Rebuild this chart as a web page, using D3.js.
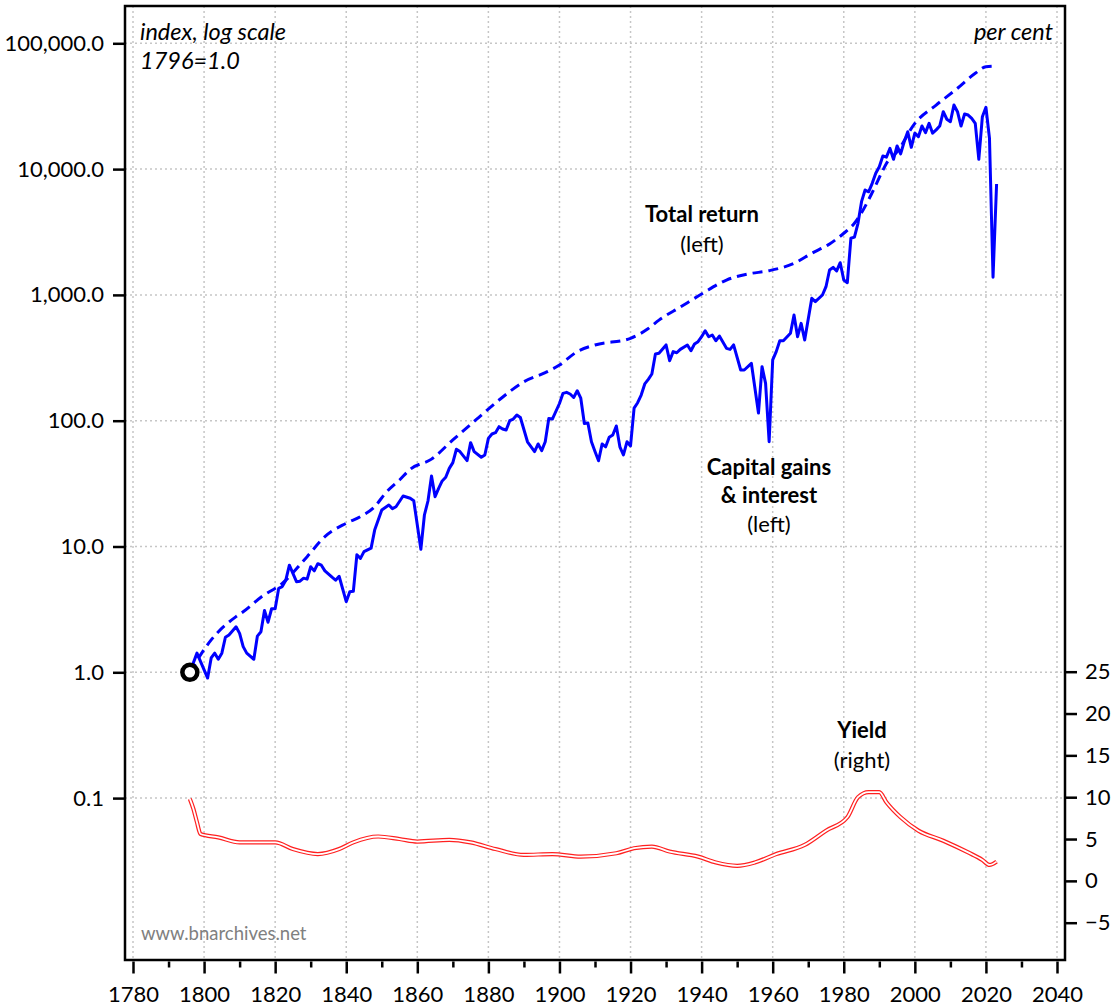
<!DOCTYPE html>
<html>
<head>
<meta charset="utf-8">
<script src="https://cdn.jsdelivr.net/npm/d3@7"></script>
<style>
  body { margin: 0; background: #fff; }
  text { font-family: Lato, "Open Sans", sans-serif; }
</style>
</head>
<body>
<div id="chart"></div>
<script>
// capital gains & interest, index 1796=1.0 (left, log)
const cgYears = [1796,1798,1801,1802,1803,1804,1805,1806,1807,1809,1810,1811,1812,1814,1815,1816,1817,1818,1819,1820,
  1821,1822,1823,1824,1826,1827,1828,1829,1830,1831,1832,1833,1834,1836,1837,1838,1840,1841,1842,1843,
  1844,1845,1847,1848,1850,1852,1853,1854,1856,1858,1859,1861,1862,1863,1864,1865,1866,1867,1868,1869,
  1870,1871,1872,1874,1875,1876,1878,1879,1880,1881,1882,1883,1884,1885,1886,1887,1888,1889,1891,1893,
  1894,1895,1896,1897,1898,1900,1901,1902,1903,1904,1905,1906,1907,1908,1909,1910,1911,1912,1913,1914,
  1915,1916,1917,1918,1919,1920,1921,1922,1923,1924,1925,1926,1927,1928,1930,1931,1932,1933,1934,1936,
  1937,1938,1939,1940,1941,1942,1943,1944,1945,1947,1948,1949,1951,1952,1954,1956,1957,1958,1959,1960,
  1961,1962,1963,1965,1966,1967,1968,1969,1971,1972,1974,1975,1976,1977,1978,1979,1980,1981,1982,1983,
  1984,1985,1986,1987,1988,1989,1990,1991,1992,1993,1994,1995,1996,1997,1998,1999,2000,2001,2002,2003,
  2004,2005,2006,2007,2008,2009,2010,2011,2012,2013,2014,2015,2016,2017,2018,2019,2020,2021,2022,2023];
const cgValues = [1.0,1.42,0.9,1.3,1.42,1.27,1.42,1.9,1.98,2.3,2.04,1.6,1.42,1.27,1.94,2.1,3.1,2.5,3.2,3.2,
  4.65,4.8,5.4,7.1,5.25,5.3,5.6,5.5,6.9,6.4,7.3,7.1,6.4,5.7,5.4,5.8,3.64,4.37,4.4,8.6,
  8.05,9.1,9.7,13.5,19.5,21.4,20,20.7,25.2,24.2,23.1,9.5,17.8,23,36.4,24.9,29,33.2,35.5,41.8,
  46.4,59.3,56.8,48.1,66.9,56.8,51.2,53.4,72.4,78.4,80.3,89.6,85.9,84.3,100,103,111,106,68,56.8,
  65.3,57.8,68,104,103,137,165,168,163,153,173,151,95,96,68,56.8,48,65.3,62,73.8,
  77,90.8,62,53.4,68,63,126,139,160,196,213,235,339,344,400,300,354,347,369,400,
  360,407,425,465,519,465,480,432,471,376,369,400,253,253,286,115,269,198,68,304,
  354,432,432,495,692,465,594,438,940,883,998,1162,1578,1656,1550,1803,1313,1250,2818,2880,
  3710,5510,6820,6600,7710,9260,10450,12700,12450,14600,11970,15270,13200,16500,19800,14900,19300,18100,22000,19500,
  23100,19300,20500,22000,28600,24900,23800,32300,28600,22000,27400,26900,25300,23100,11970,26100,31000,17600,1380,7620];

// total return, index 1796=1.0 (left, log)
const trYears = [1796,1802,1809,1811,1816,1822,1829,1834,1840,1844,1848,1851,1855,1858,1864,1870,1877,1883,1890,1896,
  1900,1905,1910,1920,1925,1928,1934,1940,1947,1953,1959,1966,1971,1976,1980,1983,1985,1988,1991,
  1992,1995,2000,2006,2012,2017,2020,2023];
const trValues = [1.0,1.81,2.77,3.03,3.95,5.1,8.3,12,15.3,17.3,20.7,26.5,33.8,41.1,49.5,70.3,104.5,146,204,241,
  277,354,400,452,540,630,800,1016,1313,1466,1557,1782,2142,2541,3090,3710,4500,6500,9800,
  11100,13700,23100,32300,43900,57700,65200,66000];

// yield, per cent (right)
const yieldYears = [1796,1797,1798,1799,1804,1810,1820,1825,1832,1838,1842,1849,1855,1860,1869,1875,1882,1890,1898,1906,
  1916,1921,1926,1931,1939,1944,1950,1955,1961,1969,1975,1981,1984,1987,1990,1992,1996,2001,2008,2015,
  2019,2021,2023];
const yieldValues = [9.8,8.6,7.0,5.6,5.2,4.6,4.6,3.8,3.2,3.8,4.6,5.3,5.0,4.7,4.9,4.6,3.8,3.1,3.2,2.9,
  3.3,3.9,4.1,3.5,2.9,2.2,1.8,2.2,3.2,4.3,6.0,7.6,10.0,10.6,10.6,9.4,7.6,6.0,4.8,3.4,
  2.5,1.9,2.3];

const xTicks = [1780,1800,1820,1840,1860,1880,1900,1920,1940,1960,1980,2000,2020,2040];
const xMinorTicks = [1790,1810,1830,1850,1870,1890,1910,1930,1950,1970,1990,2010,2030];
const leftTicks = [0.1,1,10,100,1000,10000,100000];
const rightTicks = [-5,0,5,10,15,20,25];

const width = 1112, height = 1008;
const plot = {left: 125, right: 1065, top: 6, bottom: 960};

const x = d3.scaleLinear().domain([1780, 2040]).range([133, 1057]);
const yL = d3.scaleLog().domain([1, 100000]).range([672.3, 43.3]);
const yR = d3.scaleLinear().domain([-5, 25]).range([922.7, 671.7]);

const svg = d3.select("#chart")
  .append("svg")
  .attr("width", width)
  .attr("height", height);

svg.append("clipPath")
  .attr("id", "clip")
  .append("rect")
  .attr("x", plot.left)
  .attr("y", plot.top)
  .attr("width", plot.right - plot.left)
  .attr("height", plot.bottom - plot.top);

// dotted grid
const grid = svg.append("g")
  .attr("stroke", "#c6c6c6")
  .attr("stroke-width", 1.5)
  .attr("stroke-dasharray", "2,3");

grid.selectAll("line.v")
  .data(xTicks)
  .join("line")
  .attr("class", "v")
  .attr("x1", d => x(d)).attr("x2", d => x(d))
  .attr("y1", plot.top).attr("y2", plot.bottom);

grid.selectAll("line.h")
  .data(leftTicks)
  .join("line")
  .attr("class", "h")
  .attr("x1", plot.left).attr("x2", plot.right)
  .attr("y1", d => yL(d)).attr("y2", d => yL(d));

const g = svg.append("g").attr("clip-path", "url(#clip)");

// yield: red double line
const yieldLine = d3.line()
  .x((d, i) => x(yieldYears[i]))
  .y(d => yR(d))
  .curve(d3.curveMonotoneX);

g.append("path")
  .datum(yieldValues)
  .attr("fill", "none")
  .attr("stroke", "#ff2020")
  .attr("stroke-width", 4.2)
  .attr("d", yieldLine);

g.append("path")
  .datum(yieldValues)
  .attr("fill", "none")
  .attr("stroke", "#fff")
  .attr("stroke-width", 1.8)
  .attr("d", yieldLine);

// total return (dashed)
g.append("path")
  .datum(trValues)
  .attr("fill", "none")
  .attr("stroke", "#0000ff")
  .attr("stroke-width", 3)
  .attr("stroke-dasharray", "10,6")
  .attr("d", d3.line()
    .x((d, i) => x(trYears[i]))
    .y(d => yL(d))
    .curve(d3.curveMonotoneX));

// capital gains & interest (solid)
g.append("path")
  .datum(cgValues)
  .attr("fill", "none")
  .attr("stroke", "#0000ff")
  .attr("stroke-width", 3)
  .attr("stroke-linejoin", "round")
  .attr("d", d3.line()
    .x((d, i) => x(cgYears[i]))
    .y(d => yL(d)));

// base year marker
svg.append("circle")
  .attr("cx", x(1796))
  .attr("cy", yL(1))
  .attr("r", 7.5)
  .attr("fill", "#fff")
  .attr("stroke", "#000")
  .attr("stroke-width", 4.5);

// frame
svg.append("rect")
  .attr("x", plot.left)
  .attr("y", plot.top)
  .attr("width", plot.right - plot.left)
  .attr("height", plot.bottom - plot.top)
  .attr("fill", "none")
  .attr("stroke", "#000")
  .attr("stroke-width", 2.5);

function styleAxis(sel) {
  sel.select(".domain").remove();
  sel.selectAll(".tick line").attr("stroke", "#000").attr("stroke-width", 2.5);
  sel.selectAll(".tick text").attr("fill", "#000").attr("font-size", 22)
    .attr("font-family", "Lato, 'Open Sans', sans-serif");
}

svg.append("g")
  .attr("transform", `translate(${plot.left},0)`)
  .call(d3.axisLeft(yL).tickValues(leftTicks).tickFormat(d3.format(",.1f")).tickSize(12).tickPadding(9))
  .call(styleAxis);

svg.append("g")
  .attr("transform", `translate(${plot.right},0)`)
  .call(d3.axisRight(yR).tickValues(rightTicks).tickFormat(d3.format("d")).tickSize(12).tickPadding(8))
  .call(styleAxis);

svg.append("g")
  .attr("transform", `translate(0,${plot.bottom + 1.5})`)
  .call(d3.axisBottom(x).tickValues(xTicks).tickFormat(d3.format("d")).tickSize(12).tickPadding(13))
  .call(styleAxis);

svg.append("g")
  .attr("transform", `translate(0,${plot.bottom + 1.5})`)
  .call(d3.axisBottom(x).tickValues(xMinorTicks).tickFormat("").tickSize(6))
  .call(styleAxis);

// text
const notes = svg.append("g").attr("font-size", 22).attr("fill", "#000");

notes.append("text").attr("x", 140).attr("y", 40).attr("font-size", 23.5)
  .attr("font-style", "italic").text("index, log scale");
notes.append("text").attr("x", 140).attr("y", 69).attr("font-size", 23.5)
  .attr("font-style", "italic").text("1796=1.0");
notes.append("text").attr("x", 1053).attr("y", 40).attr("font-size", 23.5)
  .attr("font-style", "italic").attr("text-anchor", "end").text("per cent");

notes.append("text").attr("x", 141).attr("y", 940).attr("font-size", 18.5)
  .attr("fill", "#808080").text("www.bnarchives.net");

const labels = [
  {x: 702, y: 222, t: "Total return", b: true},
  {x: 702, y: 252, t: "(left)", b: false},
  {x: 769, y: 475, t: "Capital gains", b: true},
  {x: 769, y: 503, t: "& interest", b: true},
  {x: 769, y: 532, t: "(left)", b: false},
  {x: 862, y: 738, t: "Yield", b: true},
  {x: 862, y: 768, t: "(right)", b: false}
];

notes.selectAll("text.lab")
  .data(labels)
  .join("text")
  .attr("class", "lab")
  .attr("x", d => d.x)
  .attr("y", d => d.y)
  .attr("text-anchor", "middle")
  .attr("font-weight", d => d.b ? "bold" : null)
  .text(d => d.t);
</script>
</body>
</html>
